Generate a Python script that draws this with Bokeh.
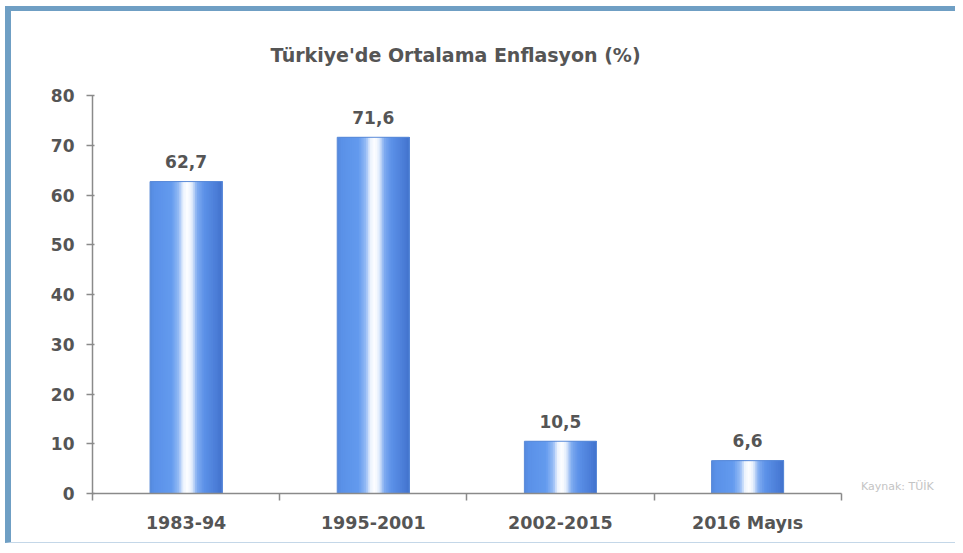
from bokeh.plotting import figure
from bokeh.models import Range1d, LinearAxis, FixedTicker, Label, ColumnDataSource
from bokeh.core.properties import value
from bokeh.embed import file_html
from bokeh.resources import INLINE
from bokeh.transform import dodge

# ---- data ----
categories = ["1983-94", "1995-2001", "2002-2015", "2016 Mayıs"]
inflation = [62.7, 71.6, 10.5, 6.6]
value_labels = ["62,7", "71,6", "10,5", "6,6"]
y_ticks = [0, 10, 20, 30, 40, 50, 60, 70, 80]
title_text = "Türkiye'de Ortalama Enflasyon (%)"
source_text = "Kaynak: TÜİK"

# ---- layout ----
W, H = 950, 537
FONT = "DejaVu Sans"
GREY = "#555555"
AXIS = "#8a8a8a"
FRAME = "#6f9fc4"
n = len(categories)
centers = [i + 0.5 for i in range(n)]
edges = list(range(n + 1))

p = figure(width=W, height=H, x_range=Range1d(0, 4.6), y_range=Range1d(0, 80),
           output_backend="svg", toolbar_location=None,
           x_axis_location=None, y_axis_location=None,
           min_border_left=81, min_border_right=8, min_border_top=81, min_border_bottom=55)
p.styles = {"margin": "6px 0 0 5px",
            "border-top": "5px solid " + FRAME,
            "border-left": "6px solid " + FRAME,
            "border-bottom": "1px solid #c4d7e8"}
p.xgrid.visible = False
p.ygrid.visible = False
p.outline_line_color = None
p.background_fill_color = "white"
p.border_fill_color = "white"

p.title.text = title_text
p.title.align = "left"
p.title.offset = 178
p.title.standoff = 60
p.title.text_font = FONT
p.title.text_font_style = "bold"
p.title.text_font_size = "19px"
p.title.text_color = "#555555"

src = ColumnDataSource(dict(x=centers, val=inflation, lab=value_labels))

# gradient bars: strips drawn left to right, each reaching to the bar's right edge
bar_w = 0.385
N = 40
s = bar_w / N
stops = [(0.00, (84, 136, 222)), (0.06, (90, 145, 232)), (0.30, (100, 155, 238)),
         (0.40, (150, 188, 245)), (0.46, (235, 242, 253)), (0.52, (255, 255, 255)),
         (0.58, (228, 238, 252)), (0.65, (128, 172, 240)), (0.75, (92, 145, 232)),
         (0.93, (74, 124, 214)), (1.00, (66, 114, 204))]
def grad(t):
    for (t0, c0), (t1, c1) in zip(stops[:-1], stops[1:]):
        if t0 <= t <= t1:
            f = (t - t0) / (t1 - t0)
            return "#%02x%02x%02x" % tuple(int(round(c0[k] + (c1[k] - c0[k]) * f)) for k in range(3))
    return "#%02x%02x%02x" % stops[-1][1]
for i in range(N):
    left = -bar_w / 2 + i * s
    right = bar_w / 2
    p.vbar(x=dodge("x", (left + right) / 2), top="val", width=right - left,
           source=src, fill_color=grad((i + 0.5) / N), line_color=None)
p.vbar(x="x", top="val", width=bar_w, source=src, fill_color=None,
       line_color="#5a8ad8", line_width=1)

p.text(x="x", y="val", text="lab", source=src, text_align="center",
       text_baseline="alphabetic", y_offset=-20, text_font=value(FONT),
       text_font_style="bold", text_font_size="17px", text_color=GREY)

# y axis
yax = LinearAxis(ticker=FixedTicker(ticks=y_ticks))
yax.axis_line_color = AXIS
yax.axis_line_width = 1.5
yax.major_tick_line_color = AXIS
yax.major_tick_line_width = 1.5
yax.major_tick_out = 6
yax.major_tick_in = 2
yax.minor_tick_line_color = None
yax.major_label_standoff = 12
yax.major_label_text_font = FONT
yax.major_label_text_font_style = "bold"
yax.major_label_text_font_size = "17px"
yax.major_label_text_color = GREY
p.add_layout(yax, "left")

# x axis: labels at category centres, small ticks at category boundaries
xax = LinearAxis(ticker=FixedTicker(ticks=centers, minor_ticks=edges),
                 major_label_overrides={c: lab for c, lab in zip(centers, categories)})
xax.bounds = (0, n)
xax.axis_line_color = AXIS
xax.axis_line_width = 1.5
xax.major_tick_line_color = None
xax.major_tick_out = 0
xax.major_tick_in = 0
xax.minor_tick_line_color = AXIS
xax.minor_tick_line_width = 1.5
xax.minor_tick_out = 7
xax.minor_tick_in = 0
xax.major_label_standoff = 12
xax.major_label_text_font = FONT
xax.major_label_text_font_style = "bold"
xax.major_label_text_font_size = "17.5px"
xax.major_label_text_color = GREY
p.add_layout(xax, "below")

# source note
p.add_layout(Label(x=4.3, y=0, y_offset=1, text=source_text, text_align="center",
                   text_baseline="bottom", text_font=FONT, text_font_size="11px",
                   text_color="#c4c4c4"))

open("out.html", "w").write(file_html(p, INLINE))
